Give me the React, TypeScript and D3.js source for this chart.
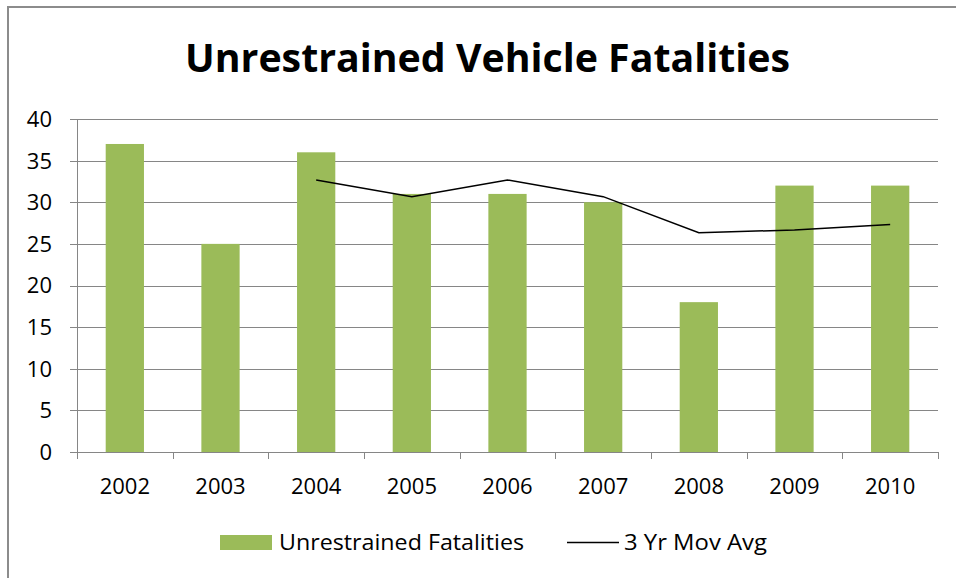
import React from "react";
import * as d3 from "d3";

const years = ["2002", "2003", "2004", "2005", "2006", "2007", "2008", "2009", "2010"];
const fatalities = [37, 25, 36, 31, 31, 30, 18, 32, 32];
const movAvgYears = ["2004", "2005", "2006", "2007", "2008", "2009", "2010"];
const movAvg = [32.67, 30.67, 32.67, 30.67, 26.33, 26.67, 27.33];
const yTicks = [0, 5, 10, 15, 20, 25, 30, 35, 40];

const W = 956;
const H = 578;
const left = 77;
const right = 938;
const top = 119;
const bottom = 452;
const FONT = "'Open Sans', Lato, sans-serif";

export default function App() {
  const x = d3.scaleBand<string>().domain(years).range([left, right]).padding(0);
  const y = d3.scaleLinear().domain([0, 40]).range([bottom, top]);
  const bw = x.bandwidth() * 0.4;
  const line = d3
    .line<number>()
    .x((_, i) => (x(movAvgYears[i]) as number) + x.bandwidth() / 2)
    .y((d) => y(d));

  return (
    <svg
      width={W}
      height={H}
      style={{ position: "absolute", left: 0, top: 0, background: "#fff" }}
      fontFamily={FONT}
    >
      <rect x={8} y={7} width={W + 20} height={H + 20} fill="#fff" stroke="#8c8c8c" strokeWidth={2} />
      <text
        x={487.5}
        y={71.5}
        textAnchor="middle"
        fontSize={40}
        fontWeight="bold"
        fill="#000"
        textLength={605}
        lengthAdjust="spacingAndGlyphs"
      >
        Unrestrained Vehicle Fatalities
      </text>
      {yTicks.map((t) => (
        <g key={t}>
          <line x1={70} x2={right} y1={Math.round(y(t)) + 0.5} y2={Math.round(y(t)) + 0.5} stroke="#868686" strokeWidth={1} />
          <text x={52} y={y(t)} dy="0.36em" textAnchor="end" fontSize={22} fill="#000">
            {t}
          </text>
        </g>
      ))}
      <line x1={left + 0.5} x2={left + 0.5} y1={top} y2={bottom} stroke="#868686" strokeWidth={1} />
      {years.map((yr) => (
        <line
          key={"t" + yr}
          x1={Math.round(x(yr) as number) + 0.5}
          x2={Math.round(x(yr) as number) + 0.5}
          y1={bottom}
          y2={bottom + 7}
          stroke="#868686"
        />
      ))}
      <line x1={right + 0.5} x2={right + 0.5} y1={bottom} y2={bottom + 7} stroke="#868686" />
      {fatalities.map((v, i) => (
        <rect
          key={years[i]}
          x={(x(years[i]) as number) + (x.bandwidth() - bw) / 2}
          y={y(v)}
          width={bw}
          height={y(0) - y(v)}
          fill="#9BBB59"
        />
      ))}
      <path d={line(movAvg) || ""} fill="none" stroke="#000" strokeWidth={1.5} />
      {years.map((yr) => (
        <text
          key={"l" + yr}
          x={(x(yr) as number) + x.bandwidth() / 2}
          y={486.5}
          dy="0.36em"
          textAnchor="middle"
          fontSize={22}
          fill="#000"
        >
          {yr}
        </text>
      ))}
      <rect x={220} y={535} width={52} height={15} fill="#9BBB59" />
      <text x={279} y={550} fontSize={21} fill="#000" textLength={245} lengthAdjust="spacingAndGlyphs">
        Unrestrained Fatalities
      </text>
      <line x1={567} x2={619} y1={542.5} y2={542.5} stroke="#000" strokeWidth={1.5} />
      <text x={624} y={550} fontSize={21} fill="#000" textLength={143} lengthAdjust="spacingAndGlyphs">
        3 Yr Mov Avg
      </text>
    </svg>
  );
}
